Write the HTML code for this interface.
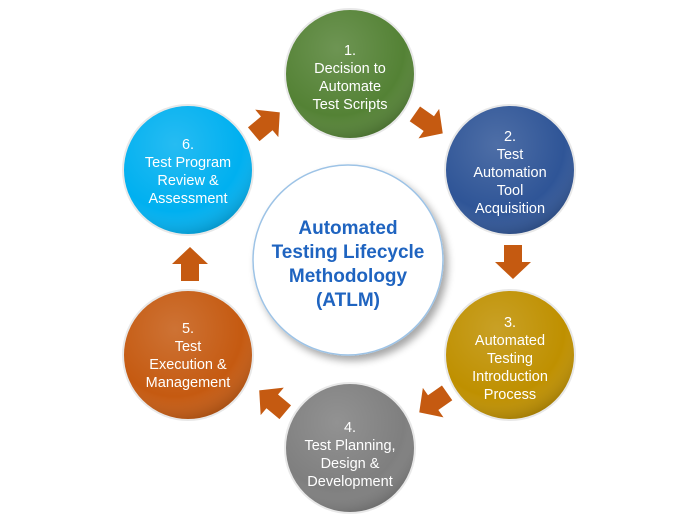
<!DOCTYPE html>
<html><head><meta charset="utf-8"><style>html,body{margin:0;padding:0;background:#fff}svg{display:block}</style></head>
<body>
<svg width="700" height="525" viewBox="0 0 700 525" xmlns="http://www.w3.org/2000/svg" font-family="Liberation Sans, sans-serif">
<defs>
<radialGradient id="sh" cx="0.4" cy="0.3" r="0.75">
<stop offset="0" stop-color="#fff" stop-opacity="0.15"/>
<stop offset="0.7" stop-color="#fff" stop-opacity="0"/>
<stop offset="1" stop-color="#000" stop-opacity="0.2"/>
</radialGradient>
<filter id="ds" x="-20%" y="-20%" width="150%" height="150%"><feGaussianBlur in="SourceAlpha" stdDeviation="4"/><feOffset dx="4" dy="5"/><feComponentTransfer><feFuncA type="linear" slope="0.35"/></feComponentTransfer><feMerge><feMergeNode/><feMergeNode in="SourceGraphic"/></feMerge></filter>
<path id="ar" d="M-16,-9 L1,-9 L1,-18 L18,0 L1,18 L1,9 L-16,9 Z" fill="#c55a11"/>
</defs>
<circle cx="348" cy="260" r="95" fill="#fff" stroke="#9dc3e6" stroke-width="1.5" filter="url(#ds)"/>
<g fill="#1f64c0" font-weight="bold" font-size="19" text-anchor="middle">
<text x="348" y="234">Automated</text>
<text x="348" y="258">Testing Lifecycle</text>
<text x="348" y="282">Methodology</text>
<text x="348" y="306">(ATLM)</text>
</g>
<g stroke="#e8e8e8" stroke-width="2">
<circle cx="350" cy="74" r="65" fill="#548235"/>
<circle cx="510" cy="170" r="65" fill="#2f5597"/>
<circle cx="510" cy="355" r="65" fill="#bf9000"/>
<circle cx="350" cy="448" r="65" fill="#7f7f7f"/>
<circle cx="188" cy="355" r="65" fill="#c55a11"/>
<circle cx="188" cy="170" r="65" fill="#00b0f0"/>
</g>
<g>
<circle cx="350" cy="74" r="64" fill="url(#sh)"/>
<circle cx="510" cy="170" r="64" fill="url(#sh)"/>
<circle cx="510" cy="355" r="64" fill="url(#sh)"/>
<circle cx="350" cy="448" r="64" fill="url(#sh)"/>
<circle cx="188" cy="355" r="64" fill="url(#sh)"/>
<circle cx="188" cy="170" r="64" fill="url(#sh)"/>
</g>
<g fill="#fff" font-size="14.5" text-anchor="middle">
<text x="350" y="55">1.</text><text x="350" y="73">Decision to</text><text x="350" y="91">Automate</text><text x="350" y="109">Test Scripts</text>
<text x="510" y="141">2.</text><text x="510" y="159">Test</text><text x="510" y="177">Automation</text><text x="510" y="195">Tool</text><text x="510" y="213">Acquisition</text>
<text x="510" y="327">3.</text><text x="510" y="345">Automated</text><text x="510" y="363">Testing</text><text x="510" y="381">Introduction</text><text x="510" y="399">Process</text>
<text x="350" y="432">4.</text><text x="350" y="450">Test Planning,</text><text x="350" y="468">Design &amp;</text><text x="350" y="486">Development</text>
<text x="188" y="333">5.</text><text x="188" y="351">Test</text><text x="188" y="369">Execution &amp;</text><text x="188" y="387">Management</text>
<text x="188" y="149">6.</text><text x="188" y="167">Test Program</text><text x="188" y="185">Review &amp;</text><text x="188" y="203">Assessment</text>
</g>
<use href="#ar" transform="translate(428,123) rotate(35)"/>
<use href="#ar" transform="translate(513,261) rotate(90)"/>
<use href="#ar" transform="translate(434,402) rotate(145)"/>
<use href="#ar" transform="translate(273,402) rotate(-140)"/>
<use href="#ar" transform="translate(190,265) rotate(-90)"/>
<use href="#ar" transform="translate(266,124) rotate(-40)"/>
</svg>
</body></html>
